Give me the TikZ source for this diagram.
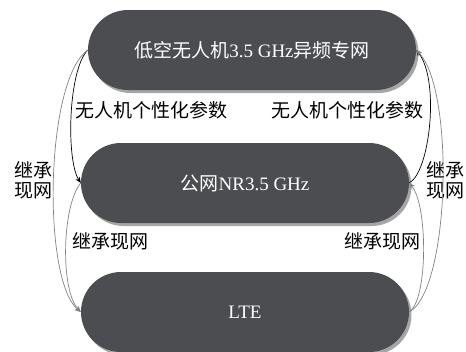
\documentclass[tikz,border=0pt]{standalone}
\usepackage{fontspec}
\setmainfont{Liberation Serif}
\newfontfamily\cjk{Noto Sans CJK SC}
\usetikzlibrary{shapes.misc,shadows,arrows.meta}
\definecolor{pillgray}{RGB}{76,77,81}
\definecolor{linegray}{RGB}{130,130,132}
\tikzset{
  pill/.style={rounded rectangle, fill=pillgray, text=white, minimum width=328pt, minimum height=80pt, inner sep=0pt,
    font=\fontsize{19}{22}\selectfont,
    drop shadow={shadow xshift=2.5pt, shadow yshift=-3pt, opacity=0.35, fill=black}},
  lbl/.style={font=\fontsize{19}{22}\selectfont\cjk, text=black, inner sep=0pt, align=center},
  darr/.style={draw=black, line width=0.7pt, -{Stealth[length=6pt,width=5pt]}},
  garr/.style={draw=linegray, line width=0.7pt, -{Stealth[length=6pt,width=5pt]}}
}
\begin{document}
\begin{tikzpicture}[x=1pt,y=-1pt]
\useasboundingbox (0,0) rectangle (466,351);
\node[pill] (top) at (252,50) {{\cjk 低空无人机}3.5 GHz{\cjk 异频专网}};
\node[pill] (mid) at (245,183) {{\cjk 公网}NR3.5 GHz};
\node[pill] (bot) at (245,312) {LTE};

\node[lbl] (l1) at (151,110) {无人机个性化参数};
\node[lbl] (l2) at (347,110) {无人机个性化参数};
\node[lbl] (l3) at (33,180) {继承\\[-2pt]现网};
\node[lbl] (l4) at (445,180) {继承\\[-2pt]现网};
\node[lbl] (l5) at (110,241) {继承现网};
\node[lbl] (l6) at (382,241) {继承现网};

% left side
\draw[darr] (top.west) .. controls (68,70) and (66,160) .. (mid.west);
\draw[garr] (top.west) .. controls (45,80) and (42,280) .. (bot.west);
\draw[garr] (mid.west) .. controls (62,205) and (60,290) .. (bot.west);
% right side
\draw[darr] (mid.east) .. controls (430,172) and (440,80) .. (top.east);
\draw[garr] (bot.east) .. controls (428,300) and (428,205) .. (mid.east);
\draw[garr] (bot.east) .. controls (450,290) and (455,90) .. (top.east);
\end{tikzpicture}
\end{document}
